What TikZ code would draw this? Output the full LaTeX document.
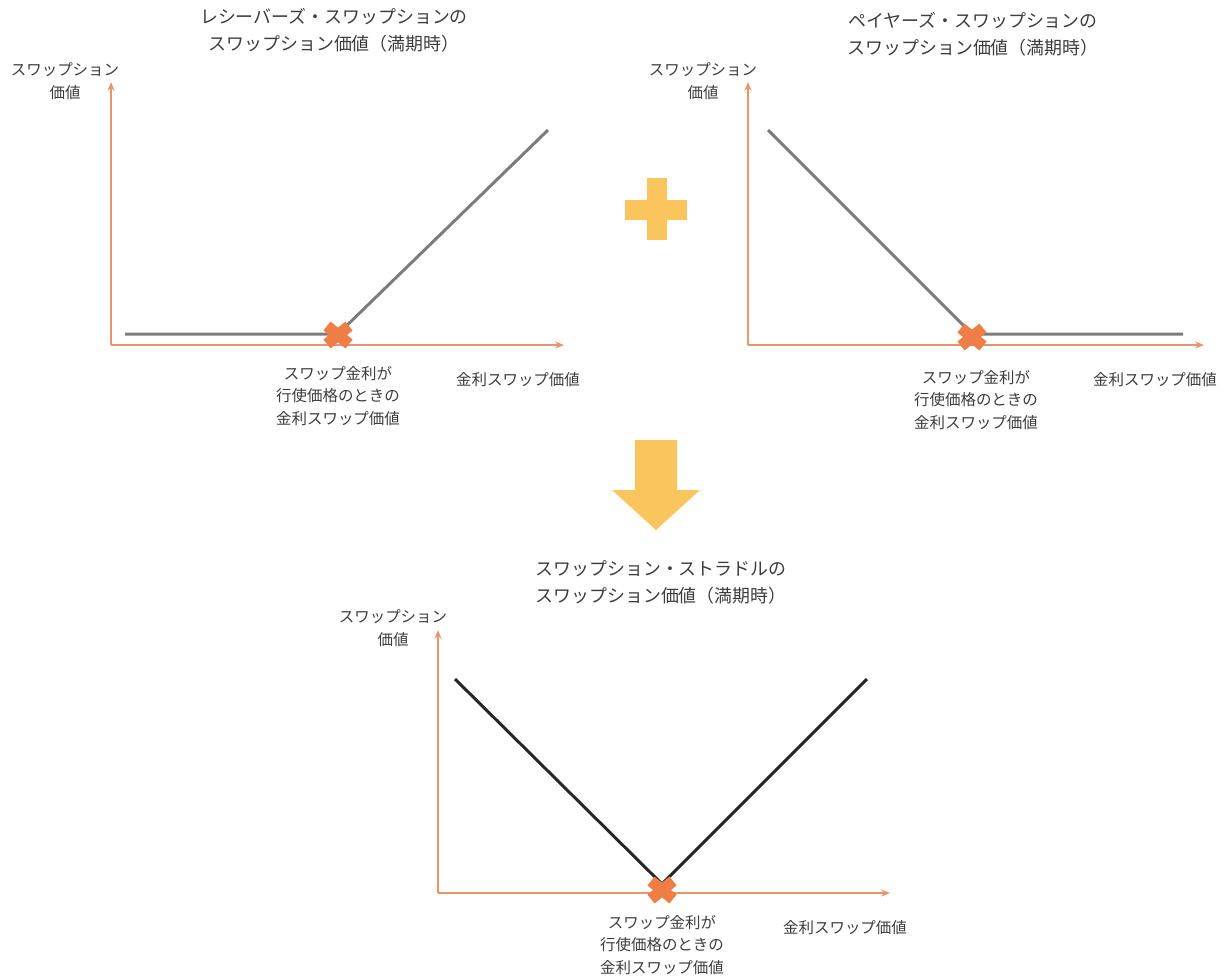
\documentclass[tikz,border=0pt]{standalone}
\usepackage{fontspec}
\setmainfont{Noto Sans CJK JP}
\usetikzlibrary{arrows.meta}
\definecolor{axisc}{HTML}{E8956A}
\definecolor{payg}{HTML}{7C7C7C}
\definecolor{payk}{HTML}{262626}
\definecolor{markc}{HTML}{EE7E45}
\definecolor{yel}{HTML}{FAC55C}
\definecolor{txt}{HTML}{3C3C3C}
\tikzset{
  axis/.style={draw=axisc, line width=0.7pt, -{Stealth[length=5pt,width=4pt]}},
  pay/.style={draw=payg, line width=1.7pt},
  payb/.style={draw=payk, line width=1.7pt},
  xmark/.style={draw=markc, line width=6.5pt},
  ttl/.style={text=txt, font=\fontsize{10.2}{15.4}\selectfont, align=center, inner sep=0pt},
  lbl/.style={text=txt, font=\fontsize{8.8}{13}\selectfont, align=center, inner sep=0pt},
  yfill/.style={fill=yel, draw=none}
}
\begin{document}
\begin{tikzpicture}[x=0.02cm, y=-0.02cm]
\useasboundingbox (0,0) rectangle (1227,978);
% ---------- left panel ----------
\node[ttl] (t1) at (334,30) {レシーバーズ・スワップションの\\スワップション価値（満期時）};
\coordinate (o1) at (111,345);
\coordinate (y1) at (111,82);
\coordinate (x1) at (564,345);
\draw[axis] (o1) -- (y1);
\draw[axis] (o1) -- (x1);
\node[lbl] (yl1) at (65,81) {スワップション\\価値};
\coordinate (a1) at (125,334);
\coordinate (k1) at (338,334);
\coordinate (b1) at (548,130);
\draw[pay] (a1) -- (k1) -- (b1);
\draw[xmark] (327,326) -- (349,344);
\draw[xmark] (327,344) -- (349,326);
\node[lbl] (kl1) at (338,396) {スワップ金利が\\行使価格のときの\\金利スワップ価値};
\node[lbl] (xl1) at (518,380) {金利スワップ価値};
% ---------- right panel ----------
\node[ttl] (t2) at (973,34) {ペイヤーズ・スワップションの\\スワップション価値（満期時）};
\coordinate (o2) at (748,345);
\coordinate (y2) at (748,82);
\coordinate (x2) at (1204,345);
\draw[axis] (o2) -- (y2);
\draw[axis] (o2) -- (x2);
\node[lbl] (yl2) at (703,81) {スワップション\\価値};
\coordinate (a2) at (768,130);
\coordinate (k2) at (972,334);
\coordinate (b2) at (1183,334);
\draw[pay] (a2) -- (k2) -- (b2);
\draw[xmark] (961,328) -- (983,346);
\draw[xmark] (961,346) -- (983,328);
\node[lbl] (kl2) at (976,400) {スワップ金利が\\行使価格のときの\\金利スワップ価値};
\node[lbl] (xl2) at (1155,380) {金利スワップ価値};
% ---------- plus ----------
\fill[yfill] (625,200) rectangle (687,220);
\fill[yfill] (647,178) rectangle (667,240);
% ---------- down arrow ----------
\fill[yfill] (635,440) -- (677,440) -- (677,490) -- (700,490) -- (656,530) -- (612,490) -- (635,490) -- cycle;
% ---------- bottom panel ----------
\node[ttl] (t3) at (661,582) {スワップション・ストラドルの\\スワップション価値（満期時）};
\coordinate (o3) at (438,893);
\coordinate (y3) at (438,630);
\coordinate (x3) at (890,893);
\draw[axis] (o3) -- (y3);
\draw[axis] (o3) -- (x3);
\node[lbl] (yl3) at (393,628) {スワップション\\価値};
\coordinate (a3) at (455,679);
\coordinate (k3) at (662,884);
\coordinate (b3) at (867,679);
\draw[payb] (a3) -- (k3) -- (b3);
\draw[xmark] (651,881) -- (673,899);
\draw[xmark] (651,899) -- (673,881);
\node[lbl] (kl3) at (662,945) {スワップ金利が\\行使価格のときの\\金利スワップ価値};
\node[lbl] (xl3) at (845,928) {金利スワップ価値};
\end{tikzpicture}
\end{document}
